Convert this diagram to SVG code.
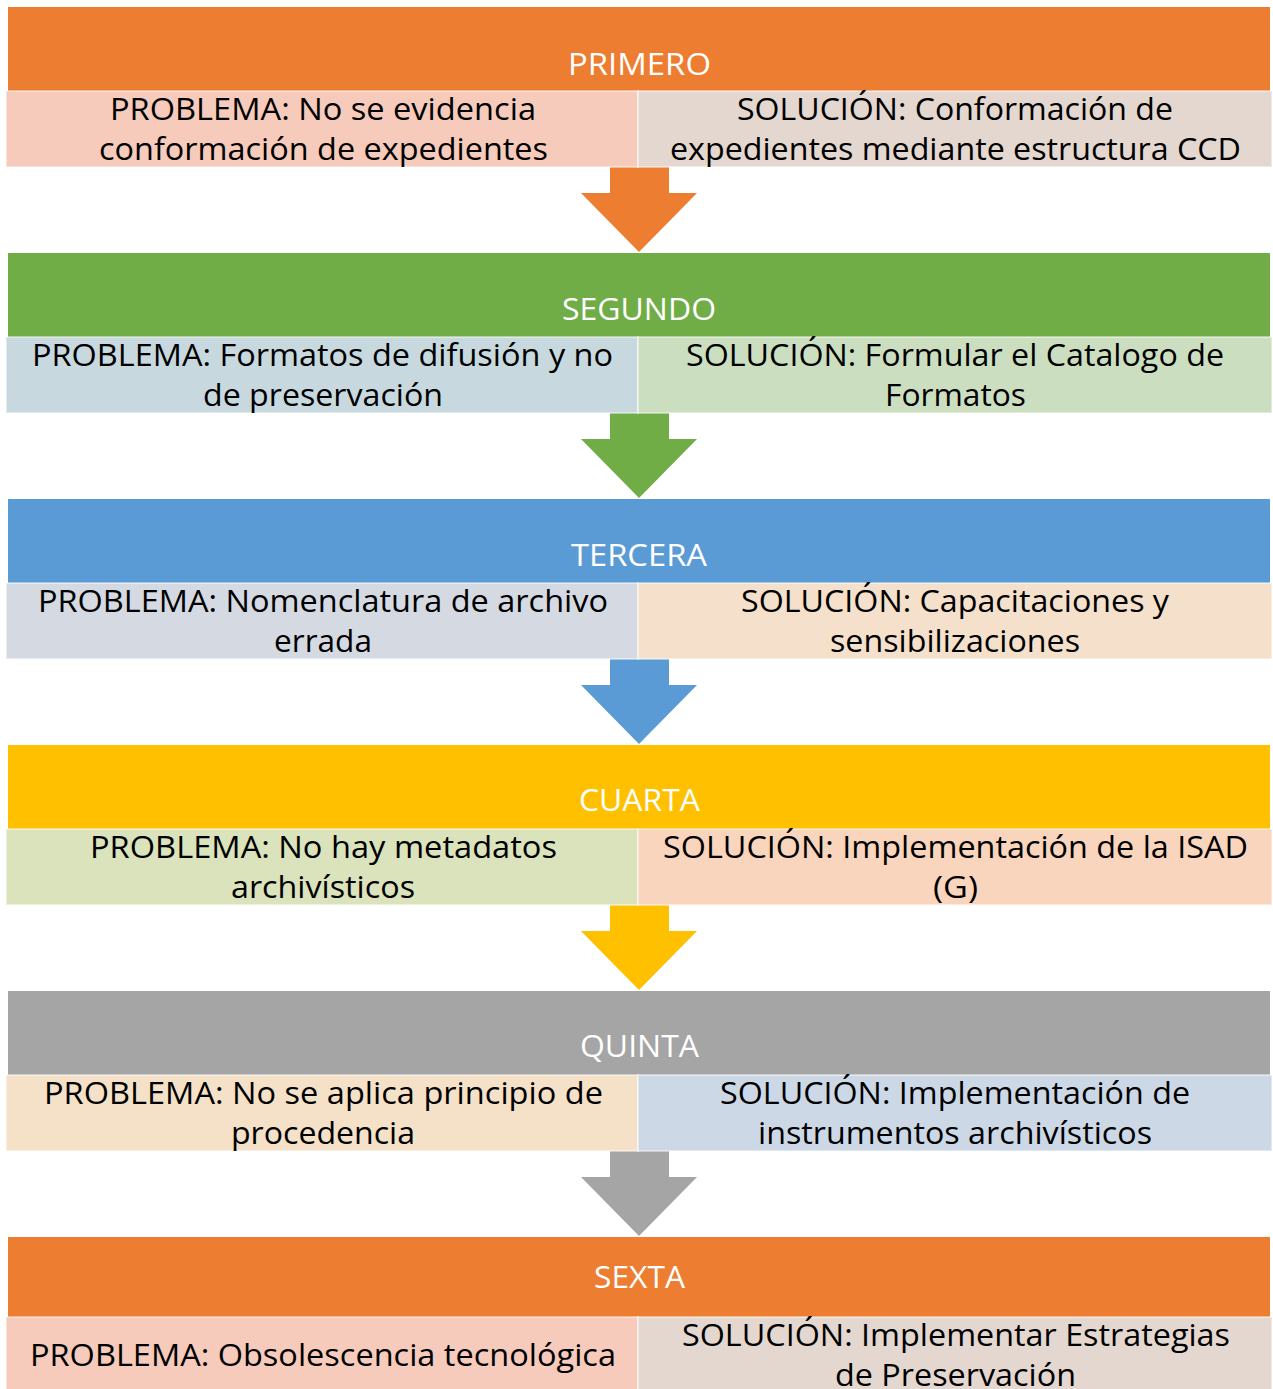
<svg xmlns="http://www.w3.org/2000/svg" width="1273" height="1389" viewBox="0 0 1273 1389">
<style>
.hd{font-family:"Open Sans","Liberation Sans",sans-serif;font-size:31px;fill:#ffffff;text-anchor:middle}
.tx{font-family:"Open Sans","Liberation Sans",sans-serif;font-size:31px;fill:#000000;text-anchor:middle}
.cell{stroke:#ffffff;stroke-opacity:0.45;stroke-width:2}
</style>
<rect width="1273" height="1389" fill="#ffffff"/>
<g id="connectors">
<polygon points="610,167 669,167 669,193 697,193 639,252 581,193 610,193" fill="#ED7D31"/>
<polygon points="610,413 669,413 669,439 697,439 639,498 581,439 610,439" fill="#70AD47"/>
<polygon points="610,659 669,659 669,685 697,685 639,744 581,685 610,685" fill="#5B9BD5"/>
<polygon points="610,905 669,905 669,931 697,931 639,990 581,931 610,931" fill="#FFC000"/>
<polygon points="610,1151 669,1151 669,1177 697,1177 639,1236 581,1177 610,1177" fill="#A5A5A5"/>
</g>
<g id="primero">
<rect x="8" y="7" width="1262" height="84" fill="#ED7D31"/>
<text class="hd" x="639.5" y="75" textLength="143" lengthAdjust="spacingAndGlyphs">PRIMERO</text>
<rect class="cell" x="6" y="91" width="632" height="76" fill="#F7CBBB"/>
<rect class="cell" x="638" y="91" width="634" height="76" fill="#E3D7CF"/>
<text class="tx" x="323" y="120" textLength="426" lengthAdjust="spacingAndGlyphs">PROBLEMA: No se evidencia</text>
<text class="tx" x="323.5" y="160" textLength="449" lengthAdjust="spacingAndGlyphs">conformación de expedientes</text>
<text class="tx" x="955" y="120" textLength="436" lengthAdjust="spacingAndGlyphs">SOLUCIÓN: Conformación de</text>
<text class="tx" x="955.5" y="160" textLength="571" lengthAdjust="spacingAndGlyphs">expedientes mediante estructura CCD</text>
</g>
<g id="segundo">
<rect x="8" y="253" width="1262" height="84" fill="#70AD47"/>
<text class="hd" x="639" y="320" textLength="154" lengthAdjust="spacingAndGlyphs">SEGUNDO</text>
<rect class="cell" x="6" y="337" width="632" height="76" fill="#C7D9DF"/>
<rect class="cell" x="638" y="337" width="634" height="76" fill="#CCDEC0"/>
<text class="tx" x="322.5" y="366" textLength="581" lengthAdjust="spacingAndGlyphs">PROBLEMA: Formatos de difusión y no</text>
<text class="tx" x="323" y="406" textLength="240" lengthAdjust="spacingAndGlyphs">de preservación</text>
<text class="tx" x="955" y="366" textLength="538" lengthAdjust="spacingAndGlyphs">SOLUCIÓN: Formular el Catalogo de</text>
<text class="tx" x="955.5" y="406" textLength="141" lengthAdjust="spacingAndGlyphs">Formatos</text>
</g>
<g id="tercera">
<rect x="8" y="499" width="1262" height="84" fill="#5B9BD5"/>
<text class="hd" x="639" y="566" textLength="136" lengthAdjust="spacingAndGlyphs">TERCERA</text>
<rect class="cell" x="6" y="583" width="632" height="76" fill="#D5DAE2"/>
<rect class="cell" x="638" y="583" width="634" height="76" fill="#F4E0CB"/>
<text class="tx" x="323" y="612" textLength="570" lengthAdjust="spacingAndGlyphs">PROBLEMA: Nomenclatura de archivo</text>
<text class="tx" x="323" y="652" textLength="98" lengthAdjust="spacingAndGlyphs">errada</text>
<text class="tx" x="955" y="612" textLength="428" lengthAdjust="spacingAndGlyphs">SOLUCIÓN: Capacitaciones y</text>
<text class="tx" x="955" y="652" textLength="250" lengthAdjust="spacingAndGlyphs">sensibilizaciones</text>
</g>
<g id="cuarta">
<rect x="8" y="745" width="1262" height="84" fill="#FFC000"/>
<text class="hd" x="639.5" y="811" textLength="121" lengthAdjust="spacingAndGlyphs">CUARTA</text>
<rect class="cell" x="6" y="829" width="632" height="76" fill="#DAE3BC"/>
<rect class="cell" x="638" y="829" width="634" height="76" fill="#F8D5BC"/>
<text class="tx" x="323.5" y="858" textLength="467" lengthAdjust="spacingAndGlyphs">PROBLEMA: No hay metadatos</text>
<text class="tx" x="323" y="898" textLength="184" lengthAdjust="spacingAndGlyphs">archivísticos</text>
<text class="tx" x="955.5" y="858" textLength="585" lengthAdjust="spacingAndGlyphs">SOLUCIÓN: Implementación de la ISAD</text>
<text class="tx" x="955.5" y="898" textLength="45" lengthAdjust="spacingAndGlyphs">(G)</text>
</g>
<g id="quinta">
<rect x="8" y="991" width="1262" height="84" fill="#A5A5A5"/>
<text class="hd" x="639.5" y="1057" textLength="119" lengthAdjust="spacingAndGlyphs">QUINTA</text>
<rect class="cell" x="6" y="1075" width="632" height="76" fill="#F5E1C8"/>
<rect class="cell" x="638" y="1075" width="634" height="76" fill="#CCD8E6"/>
<text class="tx" x="323.5" y="1104" textLength="559" lengthAdjust="spacingAndGlyphs">PROBLEMA: No se aplica principio de</text>
<text class="tx" x="323" y="1144" textLength="184" lengthAdjust="spacingAndGlyphs">procedencia</text>
<text class="tx" x="955" y="1104" textLength="470" lengthAdjust="spacingAndGlyphs">SOLUCIÓN: Implementación de</text>
<text class="tx" x="955" y="1144" textLength="394" lengthAdjust="spacingAndGlyphs">instrumentos archivísticos</text>
</g>
<g id="sexta">
<rect x="8" y="1237" width="1262" height="80" fill="#ED7D31"/>
<text class="hd" x="639.5" y="1288" textLength="91" lengthAdjust="spacingAndGlyphs">SEXTA</text>
<rect class="cell" x="6" y="1317" width="632" height="76" fill="#F7CBBB"/>
<rect class="cell" x="638" y="1317" width="634" height="76" fill="#E3D7CF"/>
<text class="tx" x="323" y="1366" textLength="586" lengthAdjust="spacingAndGlyphs">PROBLEMA: Obsolescencia tecnológica</text>
<text class="tx" x="956" y="1346" textLength="548" lengthAdjust="spacingAndGlyphs">SOLUCIÓN: Implementar Estrategias</text>
<text class="tx" x="955.5" y="1386" textLength="241" lengthAdjust="spacingAndGlyphs">de Preservación</text>
</g>
</svg>
